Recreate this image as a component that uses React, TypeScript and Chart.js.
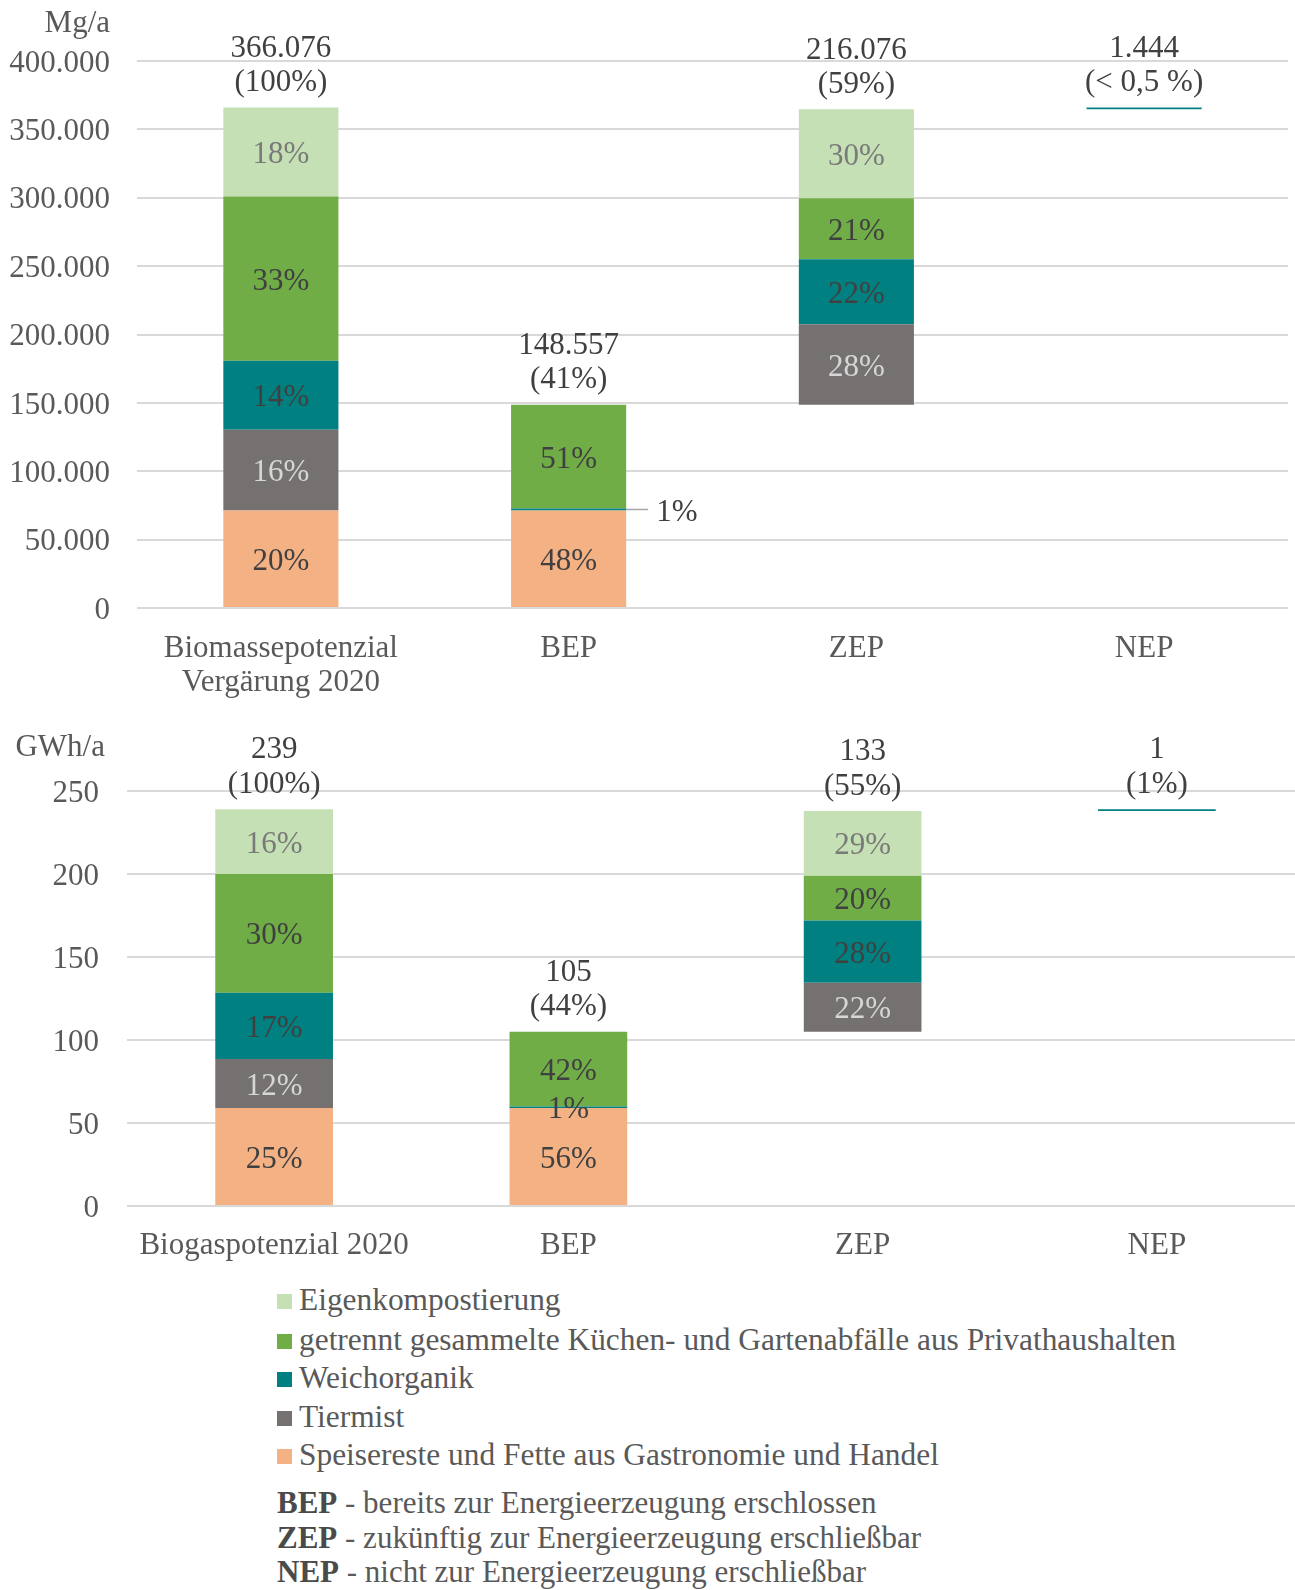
import React, { useEffect, useRef } from "react";
import { Chart, registerables } from "chart.js";

Chart.register(...registerables);

// ---------- Data ----------
const seriesNames = [
  "Eigenkompostierung",
  "getrennt gesammelte Küchen- und Gartenabfälle aus Privathaushalten",
  "Weichorganik",
  "Tiermist",
  "Speisereste und Fette aus Gastronomie und Handel",
];
const seriesColors = ["#C5E0B4", "#70AD47", "#008080", "#767171", "#F4B183"];
const pctTextColors = ["#7a7a7a", "#404040", "#404040", "#d6d6d6", "#404040"];

// Top chart (Mg/a)
const categoriesMg = [["Biomassepotenzial", "Vergärung 2020"], "BEP", "ZEP", "NEP"];
const baseMg = [0, 0, 148557, 364633];
const speiseMg = [71300, 71300, 0, 0];
const tierMg = [59000, 0, 59000, 0];
const weichMg = [50444, 1500, 47500, 1444];
const getrenntMg = [120256, 75757, 44500, 0];
const eigenMg = [65076, 0, 65076, 0];
const pctSpeiseMg = ["20%", "48%", "", ""];
const pctTierMg = ["16%", "", "28%", ""];
const pctWeichMg = ["14%", "1%", "22%", ""];
const pctGetrenntMg = ["33%", "51%", "21%", ""];
const pctEigenMg = ["18%", "", "30%", ""];
const totalsMg = ["366.076", "148.557", "216.076", "1.444"];
const sharesMg = ["(100%)", "(41%)", "(59%)", "(< 0,5 %)"];

// Bottom chart (GWh/a)
const categoriesGwh = ["Biogaspotenzial 2020", "BEP", "ZEP", "NEP"];
const baseGwh = [0, 0, 105, 238];
const speiseGwh = [59, 59, 0, 0];
const tierGwh = [29.5, 0, 29.5, 0];
const weichGwh = [40, 1, 37.5, 1];
const getrenntGwh = [71.5, 45, 27, 0];
const eigenGwh = [39, 0, 39, 0];
const pctSpeiseGwh = ["25%", "56%", "", ""];
const pctTierGwh = ["12%", "", "22%", ""];
const pctWeichGwh = ["17%", "1%", "28%", ""];
const pctGetrenntGwh = ["30%", "42%", "20%", ""];
const pctEigenGwh = ["16%", "", "29%", ""];
const totalsGwh = ["239", "105", "133", "1"];
const sharesGwh = ["(100%)", "(44%)", "(55%)", "(1%)"];

const definitions = [
  ["BEP", " - bereits zur Energieerzeugung erschlossen"],
  ["ZEP", " - zukünftig zur Energieerzeugung erschließbar"],
  ["NEP", " - nicht zur Energieerzeugung erschließbar"],
];

// ---------- Styling ----------
const FONT_FAMILY = '"Liberation Serif", "Times New Roman", serif';
const FONT_SIZE = 31;
const AXIS_COLOR = "#595959";
const LABEL_COLOR = "#404040";
const GRID_COLOR = "#d9d9d9";
const TEXT_SHIFT = 3;

const deNum = (v: number) => String(v).replace(/\B(?=(\d{3})+(?!\d))/g, ".");

const labelPlugin = {
  id: "segLabels",
  afterDatasetsDraw(chart: any, _args: any, opts: any) {
    const ctx = chart.ctx;
    ctx.save();
    ctx.font = `${FONT_SIZE}px ${FONT_FAMILY}`;
    ctx.textBaseline = "middle";
    const pcts: string[][] = opts.pcts; // aligned to datasets 1..5
    const n = chart.data.labels.length;
    // segment labels
    for (let d = 1; d < chart.data.datasets.length; d++) {
      const meta = chart.getDatasetMeta(d);
      const labels = pcts[d - 1];
      for (let j = 0; j < n; j++) {
        const txt = labels[j];
        if (!txt) continue;
        const el: any = meta.data[j];
        const cy = (el.y + el.base) / 2;
        if (opts.outside && opts.outside.dataset === d && opts.outside.index === j) {
          const right = el.x + el.width / 2;
          ctx.strokeStyle = "#a6a6a6";
          ctx.lineWidth = 1.5;
          ctx.beginPath();
          ctx.moveTo(right, cy);
          ctx.lineTo(right + 22, cy);
          ctx.stroke();
          ctx.fillStyle = LABEL_COLOR;
          ctx.textAlign = "left";
          ctx.fillText(txt, right + 30, cy + TEXT_SHIFT);
        } else {
          ctx.fillStyle = opts.textColors[d - 1];
          ctx.textAlign = "center";
          ctx.fillText(txt, el.x, cy + TEXT_SHIFT);
        }
      }
    }
    // totals above stacks
    ctx.fillStyle = LABEL_COLOR;
    ctx.textAlign = "center";
    for (let j = 0; j < n; j++) {
      let top = Infinity;
      let x = 0;
      for (let d = 1; d < chart.data.datasets.length; d++) {
        const v = chart.data.datasets[d].data[j];
        if (!v) continue;
        const el: any = chart.getDatasetMeta(d).data[j];
        if (el.y < top) {
          top = el.y;
          x = el.x;
        }
      }
      ctx.fillText(opts.totals[j], x, top - 62 + TEXT_SHIFT);
      ctx.fillText(opts.shares[j], x, top - 27.5 + TEXT_SHIFT);
    }
    ctx.restore();
  },
};

function makeConfig(p: {
  labels: any[];
  base: number[];
  series: number[][]; // speise, tier, weich, getrennt, eigen
  pcts: string[][];
  totals: string[];
  shares: string[];
  max: number;
  step: number;
  padTop: number;
  padRight: number;
  yWidth: number;
  yPad: number;
  xHeight: number;
  xPad: number;
  outside?: { dataset: number; index: number };
}) {
  const order = [4, 3, 2, 1, 0]; // speise, tier, weich, getrennt, eigen -> color index
  const datasets: any[] = [
    { label: "base", data: p.base, backgroundColor: "rgba(0,0,0,0)" },
    ...p.series.map((s, i) => ({
      label: seriesNames[order[i]],
      data: s,
      backgroundColor: seriesColors[order[i]],
    })),
  ];
  const font = { family: FONT_FAMILY, size: FONT_SIZE };
  return {
    type: "bar",
    data: { labels: p.labels, datasets },
    options: {
      animation: false,
      responsive: false,
      maintainAspectRatio: false,
      layout: { padding: { top: p.padTop, right: p.padRight, left: 0, bottom: 0 } },
      datasets: { bar: { categoryPercentage: 0.8, barPercentage: 0.5, borderWidth: 0 } },
      plugins: {
        legend: { display: false },
        tooltip: { enabled: false },
        segLabels: {
          pcts: p.pcts,
          textColors: order.map((k) => pctTextColors[k]),
          totals: p.totals,
          shares: p.shares,
          outside: p.outside,
        },
      },
      scales: {
        x: {
          stacked: true,
          grid: { display: false },
          border: { display: false },
          ticks: {
            font: { ...font, lineHeight: 1.1 },
            color: AXIS_COLOR,
            padding: p.xPad,
            maxRotation: 0,
            autoSkip: false,
          },
          afterFit: (s: any) => {
            s.height = p.xHeight;
          },
        },
        y: {
          stacked: true,
          min: 0,
          max: p.max,
          grid: { color: GRID_COLOR, lineWidth: 2, drawTicks: false },
          border: { display: false },
          ticks: {
            stepSize: p.step,
            font,
            color: AXIS_COLOR,
            padding: p.yPad,
            labelOffset: 2.5,
            callback: (v: any) => deNum(Number(v)),
          },
          afterFit: (s: any) => {
            s.width = p.yWidth;
          },
        },
      },
    },
    plugins: [labelPlugin],
  };
}

export default function App() {
  const topRef = useRef<HTMLCanvasElement>(null);
  const botRef = useRef<HTMLCanvasElement>(null);

  useEffect(() => {
    const top = new Chart(
      topRef.current as HTMLCanvasElement,
      makeConfig({
        labels: categoriesMg,
        base: baseMg,
        series: [speiseMg, tierMg, weichMg, getrenntMg, eigenMg],
        pcts: [pctSpeiseMg, pctTierMg, pctWeichMg, pctGetrenntMg, pctEigenMg],
        totals: totalsMg,
        shares: sharesMg,
        max: 400000,
        step: 50000,
        padTop: 61,
        padRight: 7,
        yWidth: 137,
        yPad: 27,
        xHeight: 112,
        xPad: 16,
        outside: { dataset: 3, index: 1 },
      }) as any
    );
    const bot = new Chart(
      botRef.current as HTMLCanvasElement,
      makeConfig({
        labels: categoriesGwh,
        base: baseGwh,
        series: [speiseGwh, tierGwh, weichGwh, getrenntGwh, eigenGwh],
        pcts: [pctSpeiseGwh, pctTierGwh, pctWeichGwh, pctGetrenntGwh, pctEigenGwh],
        totals: totalsGwh,
        shares: sharesGwh,
        max: 250,
        step: 50,
        padTop: 71,
        padRight: 6,
        yWidth: 127,
        yPad: 28,
        xHeight: 74,
        xPad: 15,
      }) as any
    );
    return () => {
      top.destroy();
      bot.destroy();
    };
  }, []);

  const textStyle: React.CSSProperties = {
    position: "absolute",
    fontFamily: FONT_FAMILY,
    fontSize: FONT_SIZE,
    color: AXIS_COLOR,
    whiteSpace: "nowrap",
  };

  const legendCenters = [1301, 1341, 1379, 1418, 1456];
  const defCenters = [1504, 1538.5, 1573];

  return (
    <div
      style={{
        position: "absolute",
        left: 0,
        top: 0,
        width: 1295,
        height: 1590,
        overflow: "hidden",
        background: "#ffffff",
      }}
    >
      <canvas
        ref={topRef}
        width={1295}
        height={720}
        style={{ position: "absolute", left: 0, top: 0, display: "block" }}
      />
      <canvas
        ref={botRef}
        width={1310}
        height={560}
        style={{ position: "absolute", left: 0, top: 720, display: "block" }}
      />
      <div style={{ ...textStyle, right: 1295 - 110, top: 22 - 17, lineHeight: "34px" }}>Mg/a</div>
      <div style={{ ...textStyle, right: 1295 - 105, top: 746 - 17, lineHeight: "34px" }}>GWh/a</div>
      {seriesNames.map((name, i) => (
        <React.Fragment key={name}>
          <div
            style={{
              position: "absolute",
              left: 277,
              top: legendCenters[i] - 7.5,
              width: 15,
              height: 15,
              background: seriesColors[i],
            }}
          />
          <div
            style={{
              ...textStyle,
              fontSize: 31.4,
              left: 299,
              top: legendCenters[i] - 20,
              lineHeight: "38px",
            }}
          >
            {name}
          </div>
        </React.Fragment>
      ))}
      {definitions.map((d, i) => (
        <div key={d[0]} style={{ ...textStyle, left: 277, top: defCenters[i] - 18, lineHeight: "34px" }}>
          <b style={{ color: "#4a4a4a" }}>{d[0]}</b>
          {d[1]}
        </div>
      ))}
    </div>
  );
}
